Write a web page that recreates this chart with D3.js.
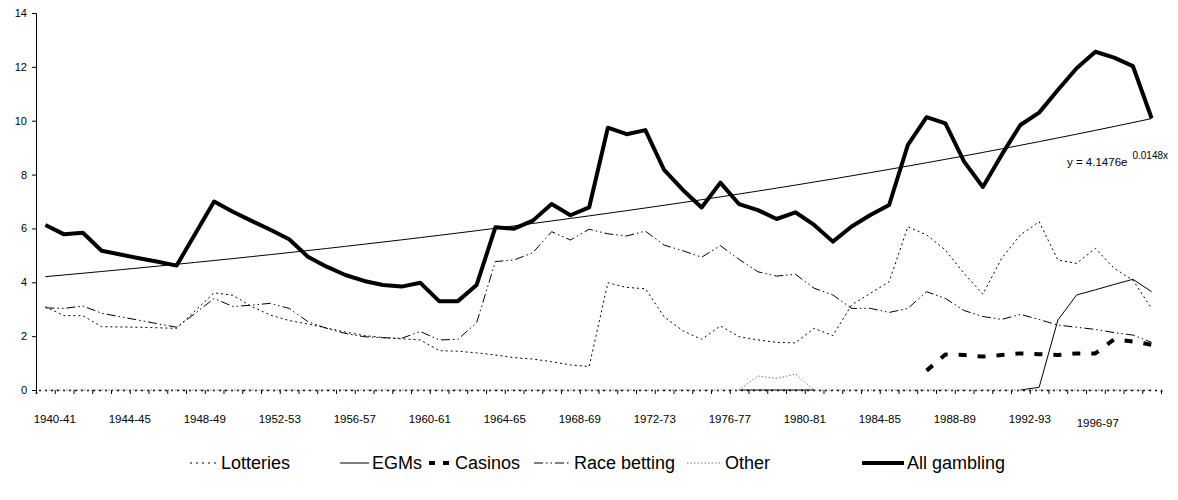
<!DOCTYPE html>
<html lang="en">
	<head>
		<meta charset="utf-8">
		<title>gambling expenditure share</title>
		<script type="text/javascript" src="https://cdn.jsdelivr.net/npm/d3@7"></script>
		<style type="text/css">
			body { margin: 0; background: #fff; }
			text { font-family: "Liberation Sans", Arial, sans-serif; fill: #000; }
		</style>
	</head>
	<body>
	<script type="text/javascript">

			//Width and height
			var w = 1178;
			var h = 500;
			var plotLeft = 36, plotRight = 1161, plotTop = 13, plotBottom = 390;

			var categories = [
				"1940-41","1941-42","1942-43","1943-44","1944-45","1945-46","1946-47","1947-48","1948-49","1949-50",
				"1950-51","1951-52","1952-53","1953-54","1954-55","1955-56","1956-57","1957-58","1958-59","1959-60",
				"1960-61","1961-62","1962-63","1963-64","1964-65","1965-66","1966-67","1967-68","1968-69","1969-70",
				"1970-71","1971-72","1972-73","1973-74","1974-75","1975-76","1976-77","1977-78","1978-79","1979-80",
				"1980-81","1981-82","1982-83","1983-84","1984-85","1985-86","1986-87","1987-88","1988-89","1989-90",
				"1990-91","1991-92","1992-93","1993-94","1994-95","1995-96","1996-97","1997-98","1998-99","1999-00"
			];

			var lotteries = [
				3.09, 2.76, 2.76, 2.35, 2.34, 2.33, 2.31, 2.29, 2.95, 3.61,
				3.52, 3.10, 2.78, 2.58, 2.45, 2.30, 2.15, 2.02, 1.95, 1.90,
				1.86, 1.46, 1.44, 1.38, 1.30, 1.20, 1.15, 1.05, 0.93, 0.87,
				3.98, 3.81, 3.76, 2.72, 2.20, 1.88, 2.38, 1.98, 1.86, 1.77,
				1.75, 2.29, 2.02, 3.16, 3.59, 4.02, 6.06, 5.76, 5.20, 4.33,
				3.56, 4.89, 5.76, 6.25, 4.83, 4.70, 5.26, 4.52, 4.08, 3.03
			];

			var egms = [
				null, null, null, null, null, null, null, null, null, null,
				null, null, null, null, null, null, null, null, null, null,
				null, null, null, null, null, null, null, null, null, null,
				null, null, null, null, null, null, null, 0, 0, 0,
				0, 0, null, null, null, null, null, null, null, null,
				null, null, 0, 0.1, 2.6, 3.53, 3.72, 3.92, 4.11, 3.65
			];

			var casinos = [
				null, null, null, null, null, null, null, null, null, null,
				null, null, null, null, null, null, null, null, null, null,
				null, null, null, null, null, null, null, null, null, null,
				null, null, null, null, null, null, null, null, null, null,
				null, null, null, null, null, null, null, 0.72, 1.32, 1.30,
				1.24, 1.30, 1.36, 1.33, 1.30, 1.36, 1.36, 1.88, 1.80, 1.68
			];

			var raceBetting = [
				3.05, 3.03, 3.12, 2.85, 2.72, 2.59, 2.46, 2.33, 2.85, 3.40,
				3.10, 3.15, 3.22, 3.03, 2.54, 2.29, 2.10, 1.98, 1.94, 1.92,
				2.17, 1.86, 1.88, 2.50, 4.77, 4.83, 5.10, 5.88, 5.57, 5.97,
				5.80, 5.72, 5.90, 5.38, 5.17, 4.93, 5.36, 4.85, 4.39, 4.23,
				4.30, 3.78, 3.53, 3.03, 3.03, 2.88, 3.03, 3.65, 3.40, 2.95,
				2.73, 2.62, 2.81, 2.62, 2.41, 2.33, 2.25, 2.13, 2.04, 1.77
			];

			var other = [
				0, 0, 0, 0, 0, 0, 0, 0, 0, 0,
				0, 0, 0, 0, 0, 0, 0, 0, 0, 0,
				0, 0, 0, 0, 0, 0, 0, 0, 0, 0,
				0, 0, 0, 0, 0, 0, 0, 0, 0.52, 0.43,
				0.59, 0, 0, 0, 0, 0, 0, 0, 0, 0,
				0, 0, 0, 0, 0, 0, 0, 0, 0, 0
			];

			var allGambling = [
				6.13, 5.78, 5.84, 5.17, 5.03, 4.89, 4.76, 4.62, 5.81, 7.00,
				6.62, 6.28, 5.95, 5.60, 4.95, 4.58, 4.27, 4.05, 3.90, 3.84,
				3.98, 3.30, 3.30, 3.90, 6.04, 5.99, 6.29, 6.91, 6.49, 6.78,
				9.74, 9.50, 9.65, 8.17, 7.43, 6.78, 7.70, 6.90, 6.68, 6.35,
				6.60, 6.13, 5.51, 6.07, 6.50, 6.87, 9.10, 10.13, 9.90, 8.48,
				7.54, 8.73, 9.84, 10.30, 11.14, 11.95, 12.56, 12.34, 12.03, 10.09
			];

			var yTicks = [0, 2, 4, 6, 8, 10, 12, 14];
			var labelEvery = 4;

			// exponential trendline shown on the chart: y = a * e^(b x), x = 1..n
			var trendA = 4.1476, trendB = 0.0148;

			var svg = d3.select("body")
						.append("svg")
						.attr("width", w)
						.attr("height", h);

			var xBand = d3.scaleBand()
						.domain(categories)
						.range([plotLeft, plotRight]);

			var xEdge = d3.scaleLinear()
						.domain([0, categories.length])
						.range([plotLeft, plotRight]);

			var yScale = d3.scaleLinear()
						.domain([0, 14])
						.range([plotBottom, plotTop]);

			function cx(i) { return xBand(categories[i]) + xBand.bandwidth() / 2; }

			//Y axis
			var yAxis = svg.append("g")
				.attr("transform", "translate(" + plotLeft + ",0)")
				.call(d3.axisLeft(yScale).tickValues(yTicks).tickSize(4).tickPadding(5).tickFormat(d3.format("d")));
			yAxis.selectAll("text").style("font-size", "11px");
			yAxis.selectAll("line, path").attr("stroke", "#000");

			//X axis: tick marks between categories
			var xAxis = svg.append("g")
				.attr("transform", "translate(0," + plotBottom + ")")
				.call(d3.axisBottom(xEdge).tickValues(d3.range(0, categories.length + 1)).tickSize(4).tickFormat(""));
			xAxis.select(".domain").attr("stroke", "#000").attr("stroke-width", 1.6).attr("stroke-dasharray", "2,4");
			xAxis.selectAll("line").attr("stroke", "#000");

			//X labels (sit on the right edge of their category)
			svg.selectAll("text.xlab")
			   .data(categories.filter(function(d, i) { return i % labelEvery === 0; }))
			   .enter()
			   .append("text")
			   .attr("class", "xlab")
			   .text(function(d) { return d; })
			   .attr("x", function(d) {
			   		var i = categories.indexOf(d);
			   		return d === "1996-97" ? xEdge(i + 1) - 7 : xEdge(i + 1);
			   })
			   .attr("y", function(d) { return d === "1996-97" ? 427 : 423; })
			   .attr("text-anchor", "middle")
			   .style("font-size", "11.5px");

			//Series
			var series = [
				{ name: "Lotteries", values: lotteries, color: "#000", width: 1, dash: "2,3" },
				{ name: "EGMs", values: egms, color: "#000", width: 1, dash: null },
				{ name: "Casinos", values: casinos, color: "#000", width: 4, dash: "8,11" },
				{ name: "Race betting", values: raceBetting, color: "#000", width: 1, dash: "9,3,1.5,3,1.5,3" },
				{ name: "Other", values: other, color: "#777", width: 1, dash: "1.5,2" },
				{ name: "All gambling", values: allGambling, color: "#000", width: 4, dash: null }
			];

			var line = d3.line()
				.defined(function(d) { return d.v !== null; })
				.x(function(d) { return cx(d.i); })
				.y(function(d) { return yScale(d.v); });

			svg.selectAll("path.series")
			   .data(series)
			   .enter()
			   .append("path")
			   .attr("class", "series")
			   .attr("fill", "none")
			   .attr("stroke", function(d) { return d.color; })
			   .attr("stroke-width", function(d) { return d.width; })
			   .attr("stroke-dasharray", function(d) { return d.dash; })
			   .attr("stroke-linejoin", "round")
			   .attr("d", function(d) {
			   		return line(d.values.map(function(v, i) { return { i: i, v: v }; }));
			   });

			//Trendline
			var trend = d3.line()
				.x(function(i) { return cx(i); })
				.y(function(i) { return yScale(trendA * Math.exp(trendB * (i + 1))); });

			svg.append("path")
			   .attr("fill", "none")
			   .attr("stroke", "#000")
			   .attr("stroke-width", 1)
			   .attr("d", trend(d3.range(0, categories.length)));

			var eq = svg.append("text")
			   .attr("x", 1067)
			   .attr("y", 166)
			   .style("font-size", "11.5px");
			eq.append("tspan").text("y = " + trendA + "e");
			eq.append("tspan").attr("dx", 5).attr("dy", -7).style("font-size", "10px").text(trendB + "x");

			//Legend
			var legendY = 463;
			var legendPos = [
				{ sx: 190, ex: 216, tx: 221 },
				{ sx: 340, ex: 369, tx: 372 },
				{ sx: 429, ex: 449, tx: 455 },
				{ sx: 534, ex: 571, tx: 574 },
				{ sx: 687, ex: 721, tx: 725 },
				{ sx: 862, ex: 904, tx: 907 }
			];
			var legendDash = ["2,4", null, "6,8", "9,3,1.5,3,1.5,3", "1.5,2", null];

			var legend = svg.selectAll("g.legend")
			   .data(series)
			   .enter()
			   .append("g")
			   .attr("class", "legend");

			legend.append("line")
			   .attr("x1", function(d, i) { return legendPos[i].sx; })
			   .attr("x2", function(d, i) { return legendPos[i].ex; })
			   .attr("y1", legendY)
			   .attr("y2", legendY)
			   .attr("stroke", function(d) { return d.color; })
			   .attr("stroke-width", function(d) { return d.width; })
			   .attr("stroke-dasharray", function(d, i) { return legendDash[i]; });

			legend.append("text")
			   .attr("x", function(d, i) { return legendPos[i].tx; })
			   .attr("y", legendY + 6)
			   .style("font-size", "18px")
			   .text(function(d) { return d.name; });

		</script>
	</body>
</html>
